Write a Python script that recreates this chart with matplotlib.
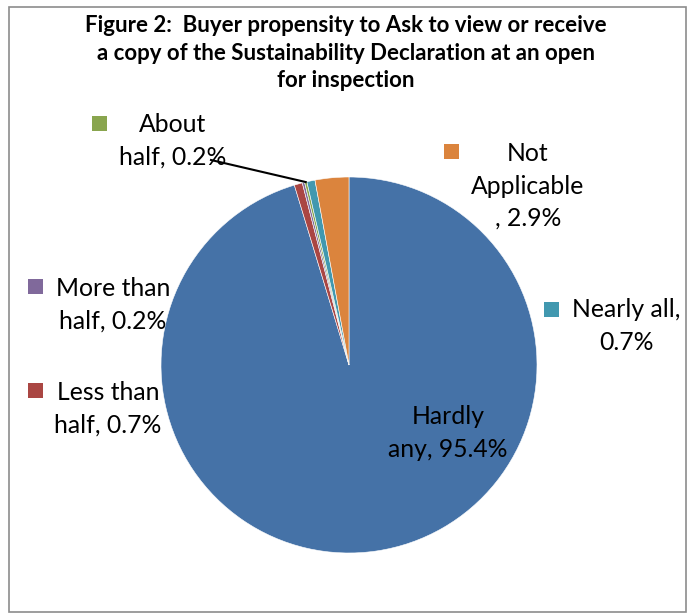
import matplotlib.pyplot as plt
import matplotlib.patches as mpatches
import numpy as np

plt.rcParams['font.family'] = ['Lato', 'DejaVu Sans']

# Data (clockwise from 12 o'clock, as in the original chart)
categories = ['Hardly any', 'Less than half', 'More than half', 'About half', 'Nearly all', 'Not Applicable']
values = [95.4, 0.7, 0.2, 0.2, 0.7, 2.9]
colors = ['#4572A7', '#AA4643', '#80699B', '#89A54E', '#4198AF', '#DB843D']
label_texts = {
    'Hardly any': 'Hardly\nany, 95.4%',
    'Less than half': 'Less than\nhalf, 0.7%',
    'More than half': 'More than\nhalf, 0.2%',
    'About half': 'About\nhalf, 0.2%',
    'Nearly all': 'Nearly all,\n0.7%',
    'Not Applicable': 'Not\nApplicable\n, 2.9%',
}
title = ('Figure 2:  Buyer propensity to Ask to view or receive\n'
         'a copy of the Sustainability Declaration at an open\n'
         'for inspection')

W, H = 691, 613
CX, CY, R = 349, 365, 188  # pie centre / radius in pixels

fig = plt.figure(figsize=(W / 100, H / 100), dpi=100)
ax = fig.add_axes([0, 0, 1, 1])


def px(x, y):
    # pixel position -> data coords
    return (x - CX) / R, (CY - y) / R


wedges, _ = ax.pie(values, colors=colors, startangle=90, counterclock=False,
                   radius=1, center=(0, 0), frame=True,
                   wedgeprops=dict(edgecolor='white', linewidth=0.4))
ax.set_xlim(-CX / R, (W - CX) / R)
ax.set_ylim(-(H - CY) / R, CY / R)
ax.set_aspect('auto')
ax.axis('off')

# label block centre and legend-key square centre, in pixels
label_pos = {
    'Hardly any': ((448, 433), None),
    'Less than half': ((108, 409), (35, 390)),
    'More than half': ((113, 305), (35, 286)),
    'About half': ((173, 141), (99, 123)),
    'Nearly all': ((626, 326), (551, 309)),
    'Not Applicable': ((528, 186), (451, 151)),
}

for cat, col in zip(categories, colors):
    (tx, ty), sq = label_pos[cat]
    ax.text(*px(tx, ty), label_texts[cat], ha='center', va='center',
            fontsize=17.8, linespacing=1.5, color='black')
    if sq is not None:
        s = 15 / R
        sx, sy = px(*sq)
        ax.add_patch(mpatches.Rectangle((sx - s / 2, sy - s / 2), s, s,
                                        facecolor=col, edgecolor='none'))

# leader line for "About half" to its wedge
w = wedges[categories.index('About half')]
mid = np.deg2rad((w.theta1 + w.theta2) / 2)
ax.plot([px(211, 160)[0], np.cos(mid)], [px(211, 160)[1], np.sin(mid)],
        color='black', linewidth=1.5)

fig.text(346 / W, 1 - 53 / H, title, ha='center', va='center',
         fontsize=16, fontweight='bold', linespacing=1.36)

fig.patches.append(mpatches.Rectangle((9 / W, 1 - 612 / H), 677 / W, 605 / H,
                                      transform=fig.transFigure, fill=False,
                                      edgecolor='#8c8c8c', linewidth=1.2))

fig.savefig('out.png', dpi=100)
